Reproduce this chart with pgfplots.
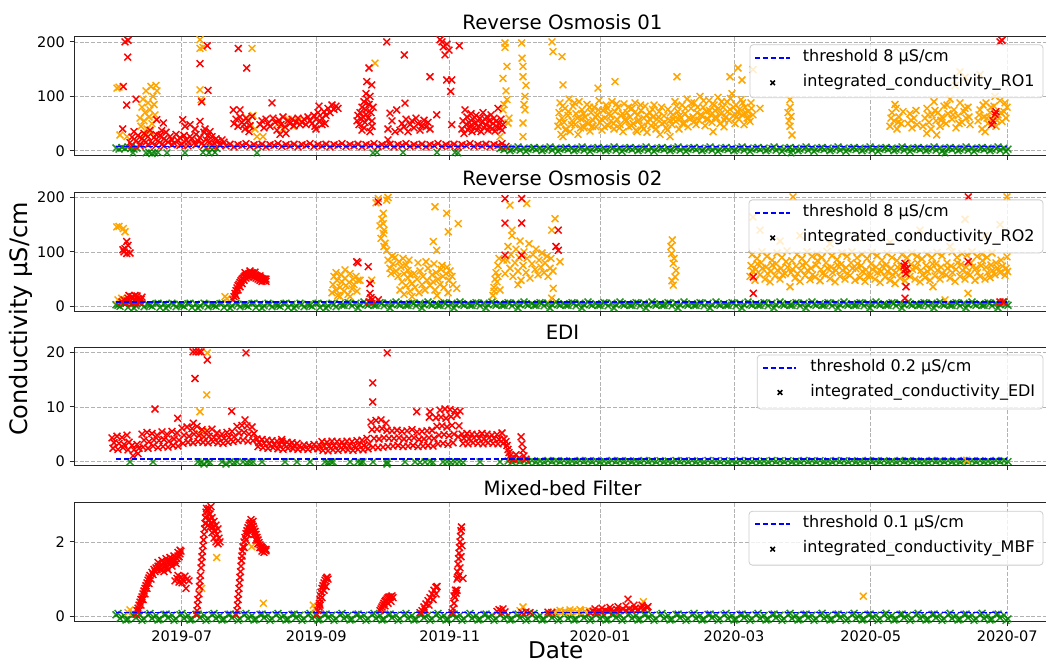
\documentclass[border=0pt]{standalone}
\usepackage{pgfplots}
\pgfplotsset{compat=1.18}
\usepackage{fontspec}
\setmainfont{DejaVu Sans}
\definecolor{mred}{RGB}{255,0,0}
\definecolor{morange}{RGB}{255,165,0}
\definecolor{mgreen}{RGB}{0,128,0}
\definecolor{mblue}{RGB}{0,0,255}
\pgfplotsset{
  panel/.style={
    scale only axis, width=732.75pt, height=89pt,
    xmin=74, xmax=1051,
    clip mode=individual,
    xtick={181.7,316.3,449.7,600,734,870.7,1007.3},
    xticklabels={},
    tick pos=left, tick align=outside,
    major tick length=3.3pt,
    tick style={black!85, line width=0.7pt},
    axis line style={black!85, line width=0.75pt},
    grid=major,
    major grid style={dash pattern=on 3pt off 1.3pt, black!30, line width=0.45pt},
    tick label style={font=\fontsize{10.9}{13}\selectfont},
    /pgf/number format/assume math mode=true,
    title style={font=\fontsize{14.8}{17}\selectfont, at={(0.5,1)}, anchor=base, yshift=-0.5pt},
  },
  pts/.style={only marks, mark=x, mark size=3.6pt, line width=1.1pt, forget plot},
  gpts/.style={pts, color=mgreen, opacity=0.85},
  opts/.style={pts, color=morange},
  rpts/.style={pts, color=mred},
  thr/.style={color=mblue, dash pattern=on 4pt off 1.9pt, line width=1.2pt, forget plot},
}
\tikzset{
  legbox/.style={draw=black!20, fill=white, fill opacity=0.8, rounded corners=2.5pt, line width=0.6pt},
  legline/.style={draw=mblue, dash pattern=on 4pt off 1.9pt, line width=1.3pt},
  legtext/.style={anchor=mid west, inner sep=0pt, font=\fontsize{12}{14}\selectfont},
}
\begin{document}
\begin{tikzpicture}
%================ Panel 1 =================
\begin{axis}[panel, at={(55.5pt,380.5pt)}, anchor=south west, ymin=-9, ymax=209, ytick={0,100,200}, title={Reverse Osmosis 01}]
\addplot[gpts] coordinates {
(116,5)(119,3)(122,6)(125,4)(128,7)(131,5)(134,3)(133,-4)(137,5)(146,-4)(149,-3)(152,-5)(155,-4)(158,-3)(167,-4)(185,-4)(203,-3)(206,5)(209,-4)(212,2)(215,-3)(217,4)
(257,-4)(373,-4)(377,-3)(403,-3)(437,-3)(455,-3)(458,-4)(791,-4)(945,-4)
(500,4)(504,2)(508,5)(512,3)(516,4)(520,1)(524,5)(528,3)
(532,4)(536,2)(540,5)(544,3)(548,4)(552,1)(556,5)(560,3)
(564,4)(568,2)(572,5)(576,3)(580,4)(584,1)(588,5)(592,3)
(596,4)(600,2)(604,5)(608,3)(612,4)(616,1)(620,5)(624,3)
(628,4)(632,2)(636,5)(640,3)(644,4)(648,1)(652,5)(656,3)
(660,4)(664,2)(668,5)(672,3)(676,4)(680,1)(684,5)(688,3)
(692,4)(696,2)(700,5)(704,3)(708,4)(712,1)(716,5)(720,3)
(724,4)(728,2)(732,5)(736,3)(740,4)(744,1)(748,5)(752,3)
(756,4)(760,2)(764,5)(768,3)(772,4)(776,1)(780,5)(784,3)
(788,4)(792,2)(796,5)(800,3)(804,4)(808,1)(812,5)(816,3)
(820,4)(824,2)(828,5)(832,3)(836,4)(840,1)(844,5)(848,3)
(852,4)(856,2)(860,5)(864,3)(868,4)(872,1)(876,5)(880,3)
(884,4)(888,2)(892,5)(896,3)(900,4)(904,1)(908,5)(912,3)
(916,4)(920,2)(924,5)(928,3)(932,4)(936,1)(940,5)(944,3)
(948,4)(952,2)(956,5)(960,3)(964,4)(968,1)(972,5)(976,3)
(980,4)(984,2)(988,5)(992,3)(996,4)(1000,1)(1004,5)(1008,3)
(502,6)(510,0)(518,7)(526,-1)(534,6)(542,0)(550,7)(558,-1)
(566,6)(574,0)(582,7)(590,-1)(598,6)(606,0)(614,7)(622,-1)
(630,6)(638,0)(646,7)(654,-1)(662,6)(670,0)(678,7)(686,-1)
(694,6)(702,0)(710,7)(718,-1)(726,6)(734,0)(742,7)(750,-1)
(758,6)(766,0)(774,7)(782,-1)(790,6)(798,0)(806,7)(814,-1)
(822,6)(830,0)(838,7)(846,-1)(854,6)(862,0)(870,7)(878,-1)
(886,6)(894,0)(902,7)(910,-1)(918,6)(926,0)(934,7)(942,-1)
(950,6)(958,0)(966,7)(974,-1)(982,6)(990,0)(998,7)(1006,-1)
};
\addplot[opts] coordinates {
(117,115)(119,117)(120,29)(127,26)
(140,60)(141,45)(142,80)(143,95)(144,55)(145,70)(146,110)(147,40)(148,88)(149,62)(150,75)(151,118)(152,50)(153,100)(154,85)(155,66)(156,120)(157,110)(145,30)(150,35)
(200,204)(200,188)(200,112)(201,94)(203,190)
(252,188)(247,60)(250,45)(253,65)(255,40)(257,26)(263,26)
(278,50)(283,40)(288,58)(293,45)(298,55)(375,161)
(505,198)(507,155)(503,133)(507,94)(503,75)(500,26)(508,51)(505,190)(506,110)(504,85)(509,60)
(521.7,198)(523,155)(523,136)(525,100)(524,85)(525,75)(523,51)(523,26)(526,120)(522,170)
(552,200)(553,182)(562,173)(563,121)(598,115)(615,127)(677,136)(730,136)(738,152)(742,130)(753,149)
(563,26)(583,45)(637,35)(670,26)(713,35)
(558,45)(559,70)(560,88)(561,30)(562,60)(564,52)(565,78)(566,40)(568,65)(569,95)(570,35)(572,55)(573,82)(575,48)(576,68)(578,30)(579,90)(581,58)(582,75)(584,42)(585,62)(587,85)(588,50)(590,36)(591,70)(593,56)(594,80)(596,44)(597,66)(599,92)
(600,52)(602,38)(603,74)(605,60)(606,84)(608,46)(609,68)(611,55)(612,90)(614,40)(615,72)(617,58)(618,80)(620,48)(621,64)(623,35)(624,86)(626,54)(627,70)(629,44)(630,62)(632,78)(633,50)(635,88)(636,38)(638,66)(639,56)(641,74)(642,45)(644,60)(645,82)(647,34)(648,52)(650,70)(651,46)(653,62)(654,84)(656,40)(657,58)(659,72)(660,30)(662,50)(664,64)(666,42)(668,76)(670,56)
(672,48)(673,66)(675,90)(676,54)(678,72)(679,40)(681,60)(682,84)(684,50)(685,68)(687,95)(688,44)(690,58)(691,78)(693,62)(694,88)(696,48)(697,70)(699,56)(700,100)(702,64)(703,80)(705,46)(706,72)(708,58)(709,92)(711,66)(712,52)(714,84)(715,74)(717,60)(718,98)(720,50)(721,68)(723,80)(724,44)(726,62)(727,90)(729,56)(730,76)(732,105)(733,64)(735,50)(736,84)(738,70)(739,58)(741,94)(742,66)(744,48)(745,80)(747,60)(748,72)(750,54)(751,88)(753,66)
(559.5,55)(562.5,82)(565.5,38)(568.5,72)(571.5,48)(574.5,88)(577.5,60)(580.5,42)(583.5,68)(586.5,52)(589.5,80)(592.5,45)(595.5,62)(598.5,75)(601.5,58)(604.5,44)(607.5,78)(610.5,64)(613.5,50)(616.5,86)(619.5,42)(622.5,68)(625.5,58)(628.5,80)(631.5,46)(634.5,70)(637.5,54)(640.5,84)(643.5,40)(646.5,66)(649.5,58)(652.5,76)(655.5,48)(658.5,62)(661.5,80)(664.5,52)(667.5,38)(670.5,70)(673.5,58)(676.5,82)(679.5,64)(682.5,50)(685.5,78)(688.5,60)(691.5,88)(694.5,54)(697.5,80)(700.5,66)(703.5,92)(706.5,58)(709.5,74)(712.5,86)(715.5,62)(718.5,78)(721.5,90)(724.5,56)(727.5,72)(730.5,96)(733.5,80)(736.5,62)(739.5,76)(742.5,88)(745.5,70)(748.5,60)(751.5,78)
(760,78)(790,94)(790,80)(791,63)(789,55)(790,45)(792,29)(788,70)
(890,45)(892,70)(894,55)(896,78)(897,40)(899,62)(901,50)(903,72)(895,85)(891,60)(898,52)
(908,50)(910,68)(912,42)(914,60)(916,74)(917,48)(911,56)
(923,45)(925,60)(927,78)(929,52)(931,40)(932,66)(934,90)(936,55)(938,70)(940,45)(942,62)(944,82)(946,50)(948,68)(950,95)(952,58)(954,75)(956,42)(958,64)(960,88)(962,52)(964,72)(966,60)(968,80)(970,48)(926.7,32)(936.7,29)
(928,66)(935,74)(941,56)(947,84)(953,66)(959,50)(965,78)(969,62)
(955,120)(965,135)(980,140)(960,145)
(978,55)(980,75)(982,40)(984,62)(986,88)(988,50)(990,70)(992,58)(994,82)(996,45)(998,66)(1000,92)(1002,54)(1004,72)(1006,60)(1007,80)(985,35)(995,100)
(979,66)(983,84)(987,60)(991,80)(997,56)(1001,70)(1005,88)
};
\addplot[rpts] coordinates {
(130,15)(132,25)(134,35)(136,18)(138,28)(140,12)(142,22)(144,32)(146,16)(148,26)(150,38)(152,14)(154,24)(156,30)(158,18)(160,28)(162,12)(164,22)(166,34)(168,16)(170,26)(172,20)(174,14)(176,30)(178,18)(180,24)(182,12)(184,28)(186,20)(188,16)(190,26)(192,22)(194,14)(196,30)(198,18)(200,24)(202,14)(204,34)(206,20)(208,28)(210,16)(212,26)(214,14)(216,22)(218,18)(220,12)(222,20)(224,16)
(132,10)(140,9)(148,11)(156,10)(164,9)(172,11)(180,10)(188,9)(196,11)(204,10)(212,9)(220,10)
(125,200)(128,203)(127.7,172)(123.3,118)(126.7,84)(136,95)(122.7,40)(156.7,57)(163.3,51)(161.7,37)(190,48)(182.7,57)(185,45)(200,160)(201.7,90)(200,54)(207.3,193)(208,111)(238.3,188)(246.7,152)(233.3,75)(240,75)(205,40)(210,35)(195,40)
(226,9)(230,12)(234,7)(238,11)(242,10)(246,13)(250,8)(254,11)
(258,9)(262,12)(266,7)(270,11)(274,10)(278,13)(282,8)(286,11)
(290,9)(294,12)(298,7)(302,11)(306,10)(310,13)(314,8)(318,11)
(322,9)(326,12)(330,7)(334,11)(338,10)(342,13)(346,8)(350,11)
(354,9)(358,12)(362,7)(366,11)(370,10)(374,13)(378,8)(382,11)
(386,9)(390,12)(394,7)(398,11)(402,10)(406,13)(410,8)(414,11)
(418,9)(422,12)(426,7)(430,11)(434,10)(438,13)(442,8)(446,11)
(450,9)(454,12)(458,7)(462,11)(466,10)(470,13)(474,8)(478,11)
(482,9)(486,12)(490,7)(494,11)(498,10)(502,13)(506,8)
(234,50)(236,58)(238,45)(240,62)(242,52)(244,48)(246,60)(248,55)(250,46)(252,63)(245,40)(249,35)
(260,48)(262,55)(264,42)(266,58)(268,50)(270,45)(272,88)(273,60)(275,52)(277,38)(279,56)(281,48)(283,62)(285,44)(286,32)(288,55)(290,50)(292,58)(294,46)(296,53)(298,60)(300,48)(280,30)
(302,52)(304,58)(306,48)(308,62)(310,55)(312,50)(314,65)(316,58)(318,70)(319,82)(320,55)(322,60)(324,72)(326,65)(328,78)(330,70)(332,84)(334,76)(336,82)(338,78)(325,50)(315,45)(322,48)(316,40)
(357,55)(358,65)(359,48)(360,70)(361,58)(362,80)(363,62)(364,90)(365,52)(366,75)(367,95)(368,60)(369,85)(370,100)(371,70)(372,45)(373,80)(364,42)(370,35)(362,38)(372,55)(366,105)(369,152)(366.7,127)(371.7,121)(366,67)
(386.7,200)(404.3,176)(390,69)(396.7,75)(405,87.5)(388,40)(392,55)(388,20)(395,35)
(400,38)(402,50)(404,44)(406,58)(408,35)(410,48)(412,55)(414,42)(416,60)(418,50)(420,38)(422,46)(424,56)(426,44)(428,52)(430,40)(430,136)
(440,204)(443.3,191)(445,176)(446.7,130)(450.7,109)(451.7,130)(459.3,193)(436.7,66)(451.7,48)(447,196)(449,185)(442,200)
(462,40)(463,55)(464,32)(465,75)(466,48)(467,62)(468,38)(469,52)(470,45)(471,68)(472,35)(473,58)(474,42)(475,50)(476,65)(477,38)(478,55)(479,45)(480,60)(481,35)(482,52)(483,70)(484,42)(485,58)(486,48)(487,62)(488,38)(489,55)(490,45)(491,66)(492,40)(493,50)(494,60)(495,36)(496,54)(497,44)(498,78)(499,50)(500,42)(501,58)(502,38)(503,48)
(1000,200)(1002,203)(995,67)(991.7,48)(993,55)(996,72)
};
\addplot[thr] coordinates {(116,8) (1007,8)};
\draw[legbox] (750,194.8) rectangle (1043,97.2);
\draw[legline] (755,170.9) -- (790,170.9);
\draw[black, line width=1.1pt] (772.7,124.8) +(-1.7pt,-1.7pt) -- +(1.7pt,1.7pt) +(-1.7pt,1.7pt) -- +(1.7pt,-1.7pt);
\node[legtext] at (802.7,170.9) {threshold 8 µS/cm};
\node[legtext] at (802.7,124.8) {integrated\_conductivity\_RO1};
\end{axis}
%================ Panel 2 =================
\begin{axis}[panel, at={(55.5pt,263.8pt)}, anchor=south west, ymin=-9, ymax=209, ytick={0,100,200}, title={Reverse Osmosis 02}]
\addplot[gpts] coordinates {
(116,3)(120,0)(124,5)(128,-2)(132,4)(136,1)(140,6)(144,-1)
(148,3)(152,0)(156,5)(160,-2)(164,4)(168,1)(172,6)(176,-1)
(180,3)(184,0)(188,5)(192,-2)(196,4)(200,1)(204,6)(208,-1)
(212,3)(216,0)(220,5)(224,-2)(228,4)(232,1)(236,6)(240,-1)
(244,3)(248,0)(252,5)(256,-2)(260,4)(264,1)(268,6)(272,-1)
(276,3)(280,0)(284,5)(288,-2)(292,4)(296,1)(300,6)(304,-1)
(308,3)(312,0)(316,5)(320,-2)(324,4)(328,1)(332,6)(336,-1)
(340,5)(344,2)(348,7)(352,1)(356,6)(360,3)(364,8)(368,2)
(372,5)(376,2)(380,7)(384,1)(388,6)(392,3)(396,8)(400,2)
(404,5)(408,2)(412,7)(416,1)(420,6)(424,3)(428,8)(432,2)
(436,5)(440,2)(444,7)(448,1)(452,6)(456,3)(460,8)(464,2)
(468,5)(472,2)(476,7)(480,1)(484,6)(488,3)(492,8)(496,2)
(500,5)(504,2)(508,7)(512,1)(516,6)(520,3)(524,8)(528,2)
(532,5)(536,2)(540,7)(544,1)(548,6)(552,3)(556,8)(560,2)
(564,5)(568,2)(572,7)(576,1)(580,6)(584,3)(588,8)(592,2)
(596,5)(600,2)(604,7)(608,1)(612,6)(616,3)(620,8)(624,2)
(628,5)(632,2)(636,7)(640,1)(644,6)(648,3)(652,8)(656,2)
(660,5)(664,2)(668,7)(672,1)(676,6)(680,3)(684,8)(688,2)
(692,5)(696,2)(700,7)(704,1)(708,6)(712,3)(716,8)(720,2)
(724,5)(728,2)(732,7)(736,1)(740,6)(744,3)(748,8)(752,2)
(756,5)(760,2)(764,7)(768,1)(772,6)(776,3)(780,8)(784,2)
(788,5)(792,2)(796,7)(800,1)(804,6)(808,3)(812,8)(816,2)
(820,5)(824,2)(828,7)(832,1)(836,6)(840,3)(844,8)(848,2)
(852,5)(856,2)(860,7)(864,1)(868,6)(872,3)(876,8)(880,2)
(884,5)(888,2)(892,7)(896,1)(900,6)(904,3)(908,8)(912,2)
(916,5)(920,2)(924,7)(928,1)(932,6)(936,3)(940,8)(944,2)
(948,5)(952,2)(956,7)(960,1)(964,6)(968,3)(972,8)(976,2)
(980,5)(984,2)(988,7)(992,1)(996,6)(1000,3)(1004,8)(1008,2)
(118,2)(126,6)(134,-3)(142,4)(150,2)(158,6)(166,-3)(174,4)
(182,2)(190,6)(198,-3)(206,4)(214,2)(222,6)(230,-3)(238,4)
(246,2)(254,6)(262,-3)(270,4)(278,2)(286,6)(294,-3)(302,4)
(310,2)(318,6)(326,-3)(334,4)(342,2)(350,6)(358,-3)(366,4)
(374,2)(382,6)(390,-3)(398,4)(406,2)(414,6)(422,-3)(430,4)
(438,2)(446,6)(454,-3)(462,4)(470,2)(478,6)(486,-3)(494,4)
(502,2)(510,6)(518,-3)(526,4)(534,2)(542,6)(550,-3)(558,4)
(566,2)(574,6)(582,-3)(590,4)(598,2)(606,6)(614,-3)(622,4)
(630,2)(638,6)(646,-3)(654,4)(662,2)(670,6)(678,-3)(686,4)
(694,2)(702,6)(710,-3)(718,4)(726,2)(734,6)(742,-3)(750,4)
(758,2)(766,6)(774,-3)(782,4)(790,2)(798,6)(806,-3)(814,4)
(822,2)(830,6)(838,-3)(846,4)(854,2)(862,6)(870,-3)(878,4)
(886,2)(894,6)(902,-3)(910,4)(918,2)(926,6)(934,-3)(942,4)
(950,2)(958,6)(966,-3)(974,4)(982,2)(990,6)(998,-3)(1006,4)
};
\addplot[opts] coordinates {
(116.7,146)(119,147)(123.3,143)(125,137)(121.7,15)(118,12)(225,18)(227,14)
(332,25)(333,40)(334,55)(336,30)(337,48)(338,20)(340,35)(341,58)(342,45)(344,28)(345,52)(345,67)(346,38)(348,22)(349,44)(350,60)(352,32)(353,50)(354,40)(356,55)(357,28)(358,48)(360,48)(336,62)(340,18)(350,18)(371.7,48)
(378.3,198)(386.7,195)(383.3,171)(383.3,152)(382,160)(384,140)(383.3,134)(385,116)(386.7,103)(381,125)(380,148)(384,110)(376,190)(388,200)
(388,85)(390,70)(391,60)(393,78)(395,90)(396,65)(398,55)(399,82)(401,72)(403,88)(404,60)(406,76)(408,66)(409,85)(410,58)(392,92)
(400,30)(402,45)(404,22)(406,38)(408,52)(410,28)(412,42)(414,60)(415,35)(417,50)(419,25)(420,65)(422,40)(423,55)(425,30)(427,48)(428,70)(430,38)(432,58)(433,45)(435,30)(436,62)(438,50)(440,40)(441,68)(443,55)(444,35)(446,60)(447,72)(449,48)(450,65)(452,55)(453,40)(418,80)(426,82)(434,78)(442,75)(412,18)(437,20)(448,25)
(435,183)(446.7,171)(448.3,137)(433.3,119)(436.7,103)(458.3,152)(456.7,33)
(493,20)(494,35)(495,50)(496,62)(497,45)(498,75)(499,88)(500,30)(494,28)(498,55)
(505,60)(507,85)(508,110)(510,70)(511,95)(512,130)(513,55)(515,80)(516,105)(518,65)(519,90)(520,120)(521,48)(523,75)(524,100)(526,62)(527,88)(529,115)(530,52)(532,78)(533,95)(535,68)(536,105)(538,58)(539,85)(541,72)(542,98)(544,62)(545,80)(547,92)(548,55)(550,70)(551,88)(553,65)(512,140)(526.7,189)(510,186)(503.3,85)(555,161)(551.7,140)(553.3,33)(551.7,15)(560,82)(518,40)
(672.3,122)(671.7,97)(673.3,79)(675,54)(673.3,39)(671,110)(674,88)(676,66)(672,47)
(750,55)(751,75)(752,95)(755,48)(756,68)(757,88)(760,58)(761,80)(762,100)(765,50)(766,72)(767,92)
(770,45)(771,65)(772,85)(775,56)(776,78)(777,98)(780,50)(781,70)(782,90)(785,60)(786,82)(787,102)
(790,36)(791,62)(792,84)(795,52)(796,74)(797,95)(800,46)(801,66)(802,88)(805,57)(806,79)(807,100)
(810,49)(811,70)(812,92)(815,54)(816,76)(817,96)(820,47)(821,68)(822,90)(825,58)(826,80)(827,101)
(830,51)(831,72)(832,93)(835,45)(836,66)(837,86)(840,55)(841,77)(842,98)(845,50)(846,71)(847,92)
(850,57)(851,80)(852,100)(855,48)(856,69)(857,89)(860,53)(861,75)(862,96)(865,46)(866,67)(867,88)
(870,56)(871,78)(872,99)(875,50)(876,72)(877,93)(880,44)(881,64)(882,85)(885,54)(886,76)(887,97)
(890,48)(891,70)(892,90)(895,42)(896,62)(897,84)(900,52)(901,74)(902,95)(905,47)(906,68)(907,89)
(910,55)(911,77)(912,98)(915,50)(916,71)(917,92)(920,45)(921,66)(922,87)(925,53)(926,75)(927,96)
(930,48)(931,69)(932,90)(933,36)(935,56)(936,78)(937,99)(940,50)(941,72)(942,93)(945,12)(946,58)(947,80)
(950,52)(951,74)(952,100)(955,46)(956,68)(957,90)(960,55)(961,77)(962,97)(965,50)(966,72)(967,94)(968,24)
(970,58)(971,80)(972,100)(975,48)(976,70)(977,92)(980,55)(981,75)(982,96)(985,50)(986,72)(987,90)
(990,53)(991,76)(992,98)(995,58)(996,80)(1000,62)(1001,85)(1005,57)(1006,70)(1007,91)
(752.5,65)(757.5,78)(762.5,70)(767.5,60)(772.5,76)(777.5,66)(782.5,58)(787.5,72)(792.5,68)(797.5,60)(802.5,76)(807.5,66)(812.5,58)(817.5,84)(822.5,60)(827.5,70)(832.5,62)(837.5,76)(842.5,66)(847.5,60)(852.5,70)(857.5,78)(862.5,64)(867.5,56)(872.5,68)(877.5,62)(882.5,74)(887.5,64)(892.5,58)(897.5,72)(902.5,64)(907.5,58)(912.5,68)(917.5,80)(922.5,58)(927.5,64)(932.5,78)(937.5,66)(942.5,60)(947.5,70)(952.5,62)(957.5,80)(962.5,66)(967.5,60)(972.5,72)(977.5,62)(982.5,84)(987.5,62)(992.5,66)(997.5,70)(1002.5,74)(1007.5,64)
(753,164)(760,140)(780,120)(800,130)(830,115)(860,125)(890,118)(920,140)(950,110)(965,160)(985,130)(1000,150)(793,201)(1007,201)
};
\addplot[rpts] coordinates {
(126.7,119)(125,106)(126.7,97)(124,100)(128,112)(123,104)(130,98)
(122,8)(124,12)(126,6)(128,15)(130,9)(132,18)(134,11)(136,7)(138,14)(140,10)(142,17)(135,20)(129,20)(127,10)(133,6)(139,8)(141,13)(137,19)
(233,12)(234,18)(235,24)(236,29)(237,34)(238,38)(239,41)(240,44)(241,47)(242,50)(243,52)(244,54)(245,56)(246,57)(247,58)(248,59)(249,60)(250,61)(251,61)(252,62)(253,61)(254,60)(255,58)(256,57)(257,56)(258,55)(259,54)(260,53)(261,52)(262,51)(263,50)(264,50)(265,50)(266,50)
(236,20)(238,30)(240,36)(242,42)(244,48)(246,52)(248,54)(250,56)(252,56)(254,54)(256,52)(258,50)(260,48)(262,46)(264,47)(266,46)(245,62)(250,65)(255,63)(260,56)
(356.7,82)(358,80)(368.3,73)(370,42)(370,24)(371,16)(369,8)(372,12)(378.3,192)(378.3,12)
(505,198)(505,153)(505,94)(521.7,198)(521.7,153)(521.7,94)(558.3,140)(558.3,103)(556,110)
(753.3,54)(753.3,24)(905,79)(905,67)(906,36)(905,15)(907,70)(906,60)(904,74)(968.3,201)(968.3,82)(1000,8)(1003,8)
};
\addplot[thr] coordinates {(116,8) (1007,8)};
\draw[legbox] (749,195.6) rectangle (1043,98.2);
\draw[legline] (755,171.7) -- (790,171.7);
\draw[black, line width=1.1pt] (772.7,125.7) +(-1.7pt,-1.7pt) -- +(1.7pt,1.7pt) +(-1.7pt,1.7pt) -- +(1.7pt,-1.7pt);
\node[legtext] at (802.7,171.7) {threshold 8 µS/cm};
\node[legtext] at (802.7,125.7) {integrated\_conductivity\_RO2};
\end{axis}
%================ Panel 3 =================
\begin{axis}[panel, at={(55.5pt,147.75pt)}, anchor=south west, ymin=-0.86, ymax=20.92, ytick={0,10,20}, title={EDI}]
\addplot[gpts] coordinates {
(130,-0.1)(153,-0.1)(198,-0.1)(201,-0.2)(204,-0.5)(207,-0.1)(210,-0.2)(222,-0.1)(226,-0.5)(230,-0.1)(234,-0.2)(237,-0.1)(243,-0.1)(247,-0.2)(250,-0.1)(253,-0.1)(262,-0.1)(285,-0.1)(297,-0.1)(310,-0.1)(325,-0.1)(328,-0.2)(331,-0.1)(333,-0.1)(350,-0.1)(358,-0.1)(361,-0.2)(363,-0.1)(373,-0.1)(387,-0.5)(387,-0.1)(405,-0.1)(415,-0.1)(420,-0.2)(425,-0.1)(430,-0.1)(433,-0.2)(443,-0.1)(447,-0.1)(451,-0.2)(455,-0.1)(459,-0.1)(463,-0.2)(480,-0.1)(500,-0.1)
(508,0.05)(512,-0.1)(516,0.15)(520,0)(524,0.1)(528,-0.05)(532,0.12)(536,-0.08)
(540,0.05)(544,-0.1)(548,0.15)(552,0)(556,0.1)(560,-0.05)(564,0.12)(568,-0.08)
(572,0.05)(576,-0.1)(580,0.15)(584,0)(588,0.1)(592,-0.05)(596,0.12)(600,-0.08)
(604,0.05)(608,-0.1)(612,0.15)(616,0)(620,0.1)(624,-0.05)(628,0.12)(632,-0.08)
(636,0.05)(640,-0.1)(644,0.15)(648,0)(652,0.1)(656,-0.05)(660,0.12)(664,-0.08)
(668,0.05)(672,-0.1)(676,0.15)(680,0)(684,0.1)(688,-0.05)(692,0.12)(696,-0.08)
(700,0.05)(704,-0.1)(708,0.15)(712,0)(716,0.1)(720,-0.05)(724,0.12)(728,-0.08)
(732,0.05)(736,-0.1)(740,0.15)(744,0)(748,0.1)(752,-0.05)(756,0.12)(760,-0.08)
(764,0.05)(768,-0.1)(772,0.15)(776,0)(780,0.1)(784,-0.05)(788,0.12)(792,-0.08)
(796,0.05)(800,-0.1)(804,0.15)(808,0)(812,0.1)(816,-0.05)(820,0.12)(824,-0.08)
(828,0.05)(832,-0.1)(836,0.15)(840,0)(844,0.1)(848,-0.05)(852,0.12)(856,-0.08)
(860,0.05)(864,-0.1)(868,0.15)(872,0)(876,0.1)(880,-0.05)(884,0.12)(888,-0.08)
(892,0.05)(896,-0.1)(900,0.15)(904,0)(908,0.1)(912,-0.05)(916,0.12)(920,-0.08)
(924,0.05)(928,-0.1)(932,0.15)(936,0)(940,0.1)(944,-0.05)(948,0.12)(952,-0.08)
(956,0.05)(960,-0.1)(964,0.15)(968,0)(972,0.1)(976,-0.05)(980,0.12)(984,-0.08)
(988,0.05)(992,-0.1)(996,0.15)(1000,0)(1004,0.1)(1008,-0.05)
};
\addplot[opts] coordinates {
(200,9.1)(201.7,5.7)(199.3,5.1)(203,5.5)(206.7,12.2)(207.3,19.9)(323.3,3)(966.7,0.2)
};
\addplot[rpts] coordinates {
(113,2.4)(114,3.4)(112,4.3)(118,2.2)(119,3.3)(117,4.6)(123,2.5)(124,3.1)(122,4.4)(128,2.1)(129,3.5)(127,4.8)
(133,1.0)(134,2.1)(132,2.9)(138,1.4)(139,2.4)(137,3.1)
(143,2.6)(144,3.9)(142,5.0)(148,2.4)(149,3.6)(147,5.3)(153,2.8)(154,3.9)(152,5.1)(158,2.5)(159,3.8)(157,4.8)(163,2.7)(164,4.0)(162,5.4)(168,2.6)(169,3.7)(167,5.0)(173,2.9)(174,4.1)(172,5.5)(178,2.8)(179,3.9)(177,5.2)
(183,3.3)(184,4.8)(182,6.1)(188,3.5)(189,4.6)(187,6.3)(193,3.4)(194,5.0)(192,6.0)(198,3.6)(199,4.7)(197,6.4)
(203,3.5)(204,4.5)(202,5.8)(208,3.4)(209,4.6)(207,5.6)(213,3.6)(214,4.4)(212,5.9)
(218,3.4)(219,4.3)(217,5.2)(223,3.3)(224,4.2)(222,5.0)(228,3.5)(229,4.4)(227,5.3)(233,3.6)(234,4.5)(232,5.5)
(238,3.8)(239,5.2)(237,6.4)(243,3.9)(244,5.3)(242,6.6)(248,3.7)(249,5.0)(247,6.5)(253,3.8)(254,5.1)(252,6.3)
(258,2.7)(259,3.4)(257,4.1)(263,2.5)(264,3.3)(262,4.0)(268,2.4)(269,3.2)(267,3.9)(273,2.5)(274,3.1)(272,3.8)(278,2.3)(279,3.0)(277,3.7)(283,2.2)(284,3.0)(282,3.6)(288,2.4)(289,3.1)(287,3.5)(293,2.3)(294,2.9)(292,3.4)(298,2.2)(299,2.8)(297,3.3)
(303,2.3)(304,3.0)(308,2.2)(309,2.9)(313,2.4)(314,3.1)(318,2.3)(319,3.0)
(323,2.0)(324,2.8)(322,3.6)(328,1.9)(329,2.7)(327,3.5)(333,2.1)(334,2.9)(332,3.7)(338,2.0)(339,2.8)(337,3.6)(343,2.2)(344,2.9)(342,3.5)(348,2.1)(349,2.8)(347,3.7)(353,2.0)(354,2.7)(352,3.6)(358,2.2)(359,3.0)(357,3.8)(363,2.1)(364,2.9)(362,3.9)(368,2.3)(369,3.2)(367,4.2)
(373,2.6)(374,4.2)(372,5.8)(371,7.2)(378,2.5)(379,4.1)(377,5.9)(376,7.5)(383,2.6)(384,4.3)(382,6.0)(381,7.6)(388,2.7)(389,4.2)(387,5.7)(386,7.0)
(393,2.8)(394,4.2)(392,5.6)(398,2.9)(399,4.3)(397,5.7)(403,2.7)(404,4.1)(402,5.5)(408,2.8)(409,4.2)(407,5.6)(413,2.9)(414,4.3)(412,5.8)(418,2.7)(419,4.0)(417,5.4)(423,2.8)(424,4.1)(422,5.5)(428,2.9)(429,4.3)(427,5.6)(433,2.8)(434,4.2)(432,5.7)
(438,3.2)(439,4.8)(437,6.4)(436,8.0)(440,9.4)(443,3.3)(444,4.9)(442,6.5)(441,8.1)(445,9.6)(448,3.1)(449,4.7)(447,6.3)(446,7.9)(450,9.5)(453,3.4)(454,5.0)(452,6.6)(451,8.2)(455,9.3)
(458,4.5)(459,6.5)(457,8.5)(460,9.2)
(463,3.3)(464,4.2)(462,5.0)(468,3.2)(469,4.1)(467,5.1)(473,3.4)(474,4.3)(472,5.0)(478,3.3)(479,4.2)(477,4.9)(483,3.2)(484,4.1)(482,5.1)(488,3.4)(489,4.3)(487,5.0)(493,3.3)(494,4.2)(492,4.8)(498,3.2)(499,4.0)(497,4.9)(503,3.3)(504,4.1)(502,5.2)
(506,3.6)(507,2.9)(508,2.2)(509,1.6)(510,1.0)(511,0.5)(513,0.3)(516,1.2)(519,0.6)(521,4.5)(522,3.2)(523,2.0)(524,1.0)(526,0.4)
(193,20.1)(196,20.1)(199,20.1)(201,20.1)(195,15.2)(207.3,18.6)(155,9.6)(177.7,7.9)(193.3,7)(231.7,9.2)(246,19.9)(245,7.6)(281.7,4)(372.7,14.4)(372.7,10.9)(387.3,19.9)(416.7,9.1)(430,9.1)(429.3,8.1)
};
\addplot[thr] coordinates {(116,0.4) (1007,0.4)};
\draw[legbox] (757.3,19.51) rectangle (1043,9.6);
\draw[legline] (763,17.07) -- (796,17.07);
\draw[black, line width=1.1pt] (780,12.63) +(-1.7pt,-1.7pt) -- +(1.7pt,1.7pt) +(-1.7pt,1.7pt) -- +(1.7pt,-1.7pt);
\node[legtext] at (810,17.07) {threshold 0.2 µS/cm};
\node[legtext] at (810,12.63) {integrated\_conductivity\_EDI};
\end{axis}
%================ Panel 4 =================
\begin{axis}[panel, at={(55.5pt,31pt)}, anchor=south west, ymin=-0.145, ymax=3.046, ytick={0,2}, title={Mixed-bed Filter},
  xticklabels={2019-07,2019-09,2019-11,2020-01,2020-03,2020-05,2020-07}]
\addplot[gpts] coordinates {
(116,0.04)(120,-0.06)(124,0.02)(128,-0.08)(132,0.05)(136,-0.04)(140,0.03)(144,-0.07)
(148,0.04)(152,-0.06)(156,0.02)(160,-0.08)(164,0.05)(168,-0.04)(172,0.03)(176,-0.07)
(180,0.04)(184,-0.06)(188,0.02)(192,-0.08)(196,0.05)(200,-0.04)(204,0.03)(208,-0.07)
(212,0.04)(216,-0.06)(220,0.02)(224,-0.08)(228,0.05)(232,-0.04)(236,0.03)(240,-0.07)
(244,0.04)(248,-0.06)(252,0.02)(256,-0.08)(260,0.05)(264,-0.04)(268,0.03)(272,-0.07)
(276,0.04)(280,-0.06)(284,0.02)(288,-0.08)(292,0.05)(296,-0.04)(300,0.03)(304,-0.07)
(308,0.04)(312,-0.06)(316,0.02)(320,-0.08)(324,0.05)(328,-0.04)(332,0.03)(336,-0.07)
(340,0.04)(344,-0.06)(348,0.02)(352,-0.08)(356,0.05)(360,-0.04)(364,0.03)(368,-0.07)
(372,0.04)(376,-0.06)(380,0.02)(384,-0.08)(388,0.05)(392,-0.04)(396,0.03)(400,-0.07)
(404,0.04)(408,-0.06)(412,0.02)(416,-0.08)(420,0.05)(424,-0.04)(428,0.03)(432,-0.07)
(436,0.04)(440,-0.06)(444,0.02)(448,-0.08)(452,0.05)(456,-0.04)(460,0.03)(464,-0.07)
(468,0.04)(472,-0.06)(476,0.02)(480,-0.08)(484,0.05)(488,-0.04)(492,0.03)(496,-0.07)
(500,0.04)(504,-0.06)(508,0.02)(512,-0.08)(516,0.05)(520,-0.04)(524,0.03)(528,-0.07)
(532,0.04)(536,-0.06)(540,0.02)(544,-0.08)(548,0.05)(552,-0.04)(556,0.03)(560,-0.07)
(564,0.04)(568,-0.06)(572,0.02)(576,-0.08)(580,0.05)(584,-0.04)(588,0.03)(592,-0.07)
(596,0.04)(600,-0.06)(604,0.02)(608,-0.08)(612,0.05)(616,-0.04)(620,0.03)(624,-0.07)
(628,0.04)(632,-0.06)(636,0.02)(640,-0.08)(644,0.05)(648,-0.04)(652,0.03)(656,-0.07)
(660,0.04)(664,-0.06)(668,0.02)(672,-0.08)(676,0.05)(680,-0.04)(684,0.03)(688,-0.07)
(692,0.04)(696,-0.06)(700,0.02)(704,-0.08)(708,0.05)(712,-0.04)(716,0.03)(720,-0.07)
(724,0.04)(728,-0.06)(732,0.02)(736,-0.08)(740,0.05)(744,-0.04)(748,0.03)(752,-0.07)
(756,0.04)(760,-0.06)(764,0.02)(768,-0.08)(772,0.05)(776,-0.04)(780,0.03)(784,-0.07)
(788,0.04)(792,-0.06)(796,0.02)(800,-0.08)(804,0.05)(808,-0.04)(812,0.03)(816,-0.07)
(820,0.04)(824,-0.06)(828,0.02)(832,-0.08)(836,0.05)(840,-0.04)(844,0.03)(848,-0.07)
(852,0.04)(856,-0.06)(860,0.02)(864,-0.08)(868,0.05)(872,-0.04)(876,0.03)(880,-0.07)
(884,0.04)(888,-0.06)(892,0.02)(896,-0.08)(900,0.05)(904,-0.04)(908,0.03)(912,-0.07)
(916,0.04)(920,-0.06)(924,0.02)(928,-0.08)(932,0.05)(936,-0.04)(940,0.03)(944,-0.07)
(948,0.04)(952,-0.06)(956,0.02)(960,-0.08)(964,0.05)(968,-0.04)(972,0.03)(976,-0.07)
(980,0.04)(984,-0.06)(988,0.02)(992,-0.08)(996,0.05)(1000,-0.04)(1004,0.03)(1008,-0.07)
(118,0.08)(126,-0.1)(134,0.06)(142,-0.11)(150,0.08)(158,-0.1)(166,0.06)(174,-0.11)
(182,0.08)(190,-0.1)(198,0.06)(206,-0.11)(214,0.08)(222,-0.1)(230,0.06)(238,-0.11)
(246,0.08)(254,-0.1)(262,0.06)(270,-0.11)(278,0.08)(286,-0.1)(294,0.06)(302,-0.11)
(310,0.08)(318,-0.1)(326,0.06)(334,-0.11)(342,0.08)(350,-0.1)(358,0.06)(366,-0.11)
(374,0.08)(382,-0.1)(390,0.06)(398,-0.11)(406,0.08)(414,-0.1)(422,0.06)(430,-0.11)
(438,0.08)(446,-0.1)(454,0.06)(462,-0.11)(470,0.08)(478,-0.1)(486,0.06)(494,-0.11)
(502,0.08)(510,-0.1)(518,0.06)(526,-0.11)(534,0.08)(542,-0.1)(550,0.06)(558,-0.11)
(566,0.08)(574,-0.1)(582,0.06)(590,-0.11)(598,0.08)(606,-0.1)(614,0.06)(622,-0.11)
(630,0.08)(638,-0.1)(646,0.06)(654,-0.11)(662,0.08)(670,-0.1)(678,0.06)(686,-0.11)
(694,0.08)(702,-0.1)(710,0.06)(718,-0.11)(726,0.08)(734,-0.1)(742,0.06)(750,-0.11)
(758,0.08)(766,-0.1)(774,0.06)(782,-0.11)(790,0.08)(798,-0.1)(806,0.06)(814,-0.11)
(822,0.08)(830,-0.1)(838,0.06)(846,-0.11)(854,0.08)(862,-0.1)(870,0.06)(878,-0.11)
(886,0.08)(894,-0.1)(902,0.06)(910,-0.11)(918,0.08)(926,-0.1)(934,0.06)(942,-0.11)
(950,0.08)(958,-0.1)(966,0.06)(974,-0.11)(982,0.08)(990,-0.1)(998,0.06)(1006,-0.11)
};
\addplot[opts] coordinates {
(130,0.17)(128,0.1)(216.7,1.58)(201.7,0.75)(263.3,0.35)(251.7,1.87)(313.3,0.3)(315,0.2)
(553,0.1)(557,0.12)(561,0.1)(565,0.13)(569,0.11)(573,0.14)(577,0.12)(581,0.15)(585,0.13)(589,0.15)(560,0.16)(570,0.17)(580,0.18)
(643.3,0.39)(863.3,0.54)(520,0.15)(523,0.25)
};
\addplot[rpts] coordinates {
(136,0.05)(137,0.15)(138,0.22)(139,0.3)(140,0.38)(141,0.45)(142,0.52)(143,0.6)(144,0.68)(145,0.75)(146,0.82)(147,0.9)(148,0.97)(149,1.03)(150,1.1)(152,1.18)(154,1.26)(156,1.3)(158,1.35)(160,1.33)(162,1.38)(164,1.42)(166,1.4)(168,1.45)(170,1.5)(172,1.48)(174,1.53)(176,1.58)(178,1.62)(180,1.68)(181,1.75)
(139,0.15)(141,0.3)(143,0.45)(145,0.6)(147,0.75)(149,0.88)(151,1.0)(153,1.12)(155,1.2)(157,1.25)(159,1.28)(161,1.25)(163,1.3)(165,1.35)(167,1.32)(169,1.4)(171,1.42)(173,1.45)(175,1.5)(177,1.55)(179,1.6)
(158,1.45)(162,1.5)(166,1.55)(170,1.58)(174,1.62)(178,1.72)(180,1.78)(164,1.2)(168,1.25)(172,1.35)(176,1.42)
(175,0.95)(177,1.02)(179,0.92)(181,1.05)(183,0.97)(185,1.08)(187,1.0)(189,0.95)(186,0.75)(178,1.1)(182,0.9)
(196,0.05)(197,0.15)(197.5,0.3)(198,0.45)(199,0.6)(199.5,0.8)(200,0.95)(200.5,1.1)(201,1.3)(201.5,1.45)(202,1.6)(202.5,1.75)(203,1.9)(203.5,2.05)(204,2.2)(204.5,2.35)(205,2.5)(205.5,2.65)(206,2.8)(206.5,2.9)
(207,2.7)(208,2.85)(209,2.6)(210,2.75)(211,2.5)(212,2.65)(213,2.4)(214,2.55)(215,2.3)(216,2.45)(217,2.2)(218,2.35)(219,2.1)(220,2.0)(208,2.45)(210,2.4)(212,2.25)(214,2.1)(216,2.0)(218,1.95)(206,2.5)(209,2.9)(211,2.95)
(236,0.05)(237,0.15)(237.5,0.3)(238,0.45)(238.5,0.6)(239,0.75)(239.5,0.9)(240,1.05)(240.5,1.2)(241,1.35)(241.5,1.5)(242,1.62)(242.5,1.75)(243,1.87)(244,2.0)(245,2.12)(246,2.22)(247,2.3)(248,2.38)(249,2.45)(250,2.5)(251,2.52)(252,2.48)(253,2.42)(254,2.35)(255,2.28)(256,2.2)(257,2.12)(258,2.05)(259,1.98)(260,1.92)(261,1.88)(262,1.85)(263,1.82)(264,1.8)(265,1.78)(266,1.76)
(244,1.85)(246,2.05)(248,2.2)(250,2.3)(252,2.3)(254,2.2)(256,2.05)(258,1.95)(260,1.85)(262,1.75)(264,1.72)(266,1.8)(251,2.6)(253,2.55)
(317,0.05)(318,0.15)(319,0.25)(319.5,0.35)(320,0.45)(320.5,0.55)(321,0.65)(322,0.75)(323,0.82)(324,0.9)(325,0.97)(326,1.02)(327,1.05)(328,1.0)(326,0.8)(324,0.7)(322,0.5)(320,0.3)
(380,0.15)(381,0.2)(382,0.25)(383,0.3)(384,0.35)(385,0.4)(386,0.43)(387,0.47)(388,0.5)(389,0.52)(390,0.5)(391,0.53)(392,0.55)(393,0.5)(385,0.28)(388,0.35)(391,0.4)
(420,0.1)(422,0.15)(424,0.25)(426,0.33)(428,0.42)(430,0.5)(432,0.6)(434,0.7)(436,0.78)(437,0.8)(425,0.18)(429,0.3)(433,0.45)(436,0.6)
(452,0.1)(453,0.2)(454,0.35)(455,0.5)(456,0.62)(457,0.7)(454,0.55)(455.5,0.7)(457,1.0)(457.5,1.2)(458,1.4)(458.5,1.55)(459,1.7)(459.5,1.85)(460,2.0)(460.5,2.15)(461,2.3)(461.5,2.4)(459,1.1)(460,1.3)(461,1.6)(462,1.9)(463,1.02)(458,1.05)
(497,0.13)(499,0.18)(501,0.15)(503,0.2)(505,0.12)(522,0.1)(526,0.12)(530,0.1)(548,0.11)(551.7,0.1)
(590,0.1)(593,0.14)(596,0.11)(599,0.15)(602,0.12)(605,0.16)(608,0.13)(611,0.17)(614,0.14)(617,0.18)(620,0.15)(623,0.19)(626,0.16)(629,0.2)(632,0.17)(635,0.21)(638,0.18)(641,0.22)(644,0.19)(647,0.23)(628,0.46)
(595,0.2)(602,0.22)(610,0.24)(618,0.26)(626,0.28)(634,0.3)(642,0.3)(648,0.26)
};
\addplot[thr] coordinates {(116,0.1) (1007,0.1)};
\draw[legbox] (749,2.823) rectangle (1043,1.375);
\draw[legline] (755,2.475) -- (790,2.475);
\draw[black, line width=1.1pt] (772.7,1.804) +(-1.7pt,-1.7pt) -- +(1.7pt,1.7pt) +(-1.7pt,1.7pt) -- +(1.7pt,-1.7pt);
\node[legtext] at (802.7,2.475) {threshold 0.1 µS/cm};
\node[legtext] at (802.7,1.804) {integrated\_conductivity\_MBF};
\end{axis}
\node[rotate=90, font=\fontsize{18}{20}\selectfont] at (16pt,258pt) {Conductivity µS/cm};
\node[anchor=base, font=\fontsize{17.3}{19}\selectfont] at (416.8pt,3pt) {Date};
\pgfresetboundingbox
\useasboundingbox (0,0) rectangle (784.5pt,497.25pt);
\end{tikzpicture}
\end{document}
